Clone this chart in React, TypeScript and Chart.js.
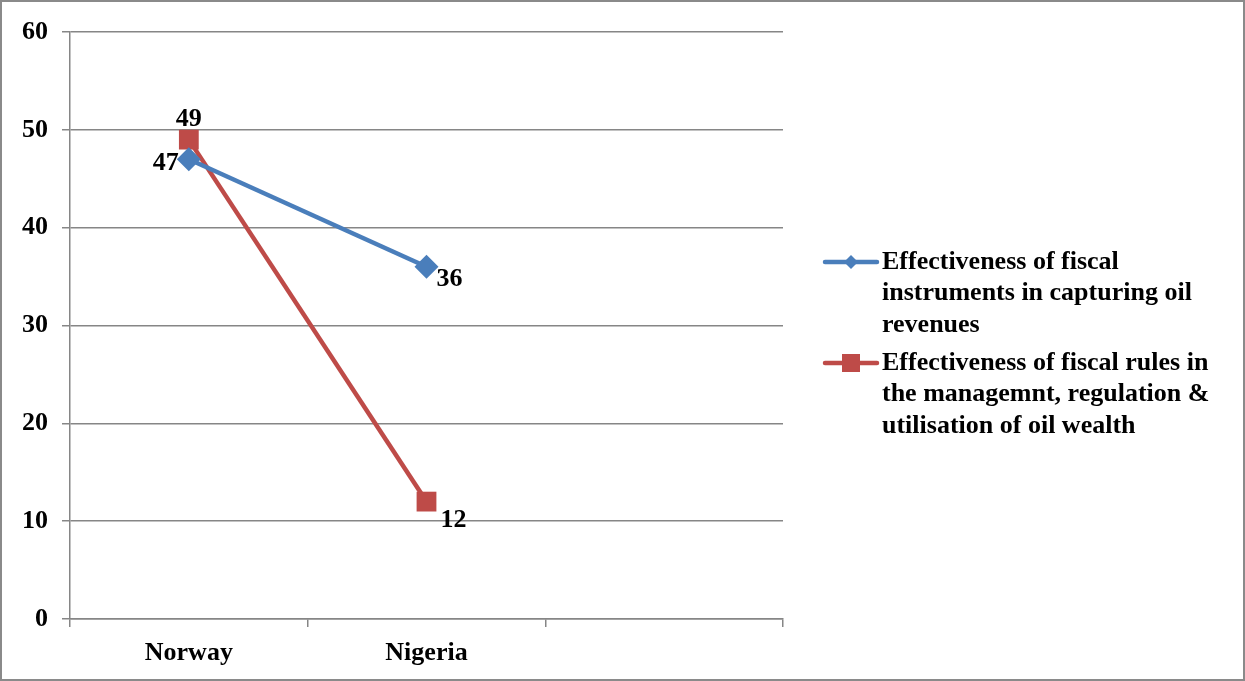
import { useEffect, useRef } from 'react';
import { Chart, registerables } from 'chart.js';

Chart.register(...registerables);

// Categories along the x axis (third slot is intentionally blank)
const categories = ['Norway', 'Nigeria', ''];

// Series values
const instrumentsValues = [47, 36, null];
const rulesValues = [49, 12, null];

// Series names, wrapped over several lines in the legend
const instrumentsLegend = ['Effectiveness of fiscal', 'instruments in capturing oil', 'revenues'];
const rulesLegend = ['Effectiveness of fiscal rules in', 'the managemnt, regulation &', 'utilisation of oil wealth'];

// Y axis range and step
const yMin = 0;
const yMax = 60;
const yStep = 10;

const WIDTH = 1245;
const HEIGHT = 681;
const FONT = '"Liberation Serif", "Times New Roman", serif';
const BLUE = '#4a7ebb';
const RED = '#be4b48';
const GRID = '#868686';

// Where each value label sits relative to its point
const labelPlacement = [
  [
    { align: 'right', dx: -10, dy: 4 },
    { align: 'left', dx: 10, dy: 12 },
  ],
  [
    { align: 'center', dx: 0, dy: -20 },
    { align: 'left', dx: 14, dy: 19 },
  ],
];

const valueLabels = {
  id: 'valueLabels',
  afterDatasetsDraw(chart: any) {
    const ctx = chart.ctx;
    ctx.save();
    ctx.font = `bold 26px ${FONT}`;
    ctx.fillStyle = '#000';
    ctx.textBaseline = 'middle';
    chart.data.datasets.forEach((ds: any, i: number) => {
      const meta = chart.getDatasetMeta(i);
      meta.data.forEach((pt: any, j: number) => {
        const v = ds.data[j];
        if (v == null) return;
        const p = labelPlacement[i][j];
        ctx.textAlign = p.align;
        ctx.fillText(String(v), pt.x + p.dx, pt.y + p.dy);
      });
    });
    ctx.restore();
  },
};

const legendTexts = [instrumentsLegend, rulesLegend];

const sideLegend = {
  id: 'sideLegend',
  afterDraw(chart: any) {
    const ctx = chart.ctx;
    const x0 = chart.chartArea.right + 40;
    const lineLen = 56;
    const textX = x0 + lineLen + 3;
    const lineGap = 31.5;
    const starts = [262, 363];
    ctx.save();
    ctx.font = `bold 26px ${FONT}`;
    ctx.fillStyle = '#000';
    ctx.textAlign = 'left';
    ctx.textBaseline = 'middle';
    chart.data.datasets.forEach((ds: any, i: number) => {
      const y = starts[i];
      ctx.strokeStyle = ds.borderColor;
      ctx.lineWidth = 4.5;
      ctx.lineCap = 'round';
      ctx.beginPath();
      ctx.moveTo(x0 + 2, y);
      ctx.lineTo(x0 + lineLen - 2, y);
      ctx.stroke();
      const cx = x0 + lineLen / 2;
      ctx.fillStyle = ds.backgroundColor;
      ctx.beginPath();
      if (ds.pointStyle === 'rectRot') {
        const r = 7;
        ctx.moveTo(cx, y - r);
        ctx.lineTo(cx + r, y);
        ctx.lineTo(cx, y + r);
        ctx.lineTo(cx - r, y);
        ctx.closePath();
      } else {
        ctx.rect(cx - 9, y - 9, 18, 18);
      }
      ctx.fill();
      ctx.fillStyle = '#000';
      legendTexts[i].forEach((line, k) => {
        ctx.fillText(line, textX, y + k * lineGap);
      });
    });
    ctx.restore();
  },
};

export default function App() {
  const canvasRef = useRef<HTMLCanvasElement | null>(null);

  useEffect(() => {
    const canvas = canvasRef.current;
    if (!canvas) return;
    const tickFont = { family: FONT, size: 26, weight: 'bold' as const };
    const chart = new Chart(canvas, {
      type: 'line',
      data: {
        labels: categories,
        datasets: [
          {
            label: instrumentsLegend.join(' '),
            data: instrumentsValues,
            borderColor: BLUE,
            backgroundColor: BLUE,
            borderWidth: 4.5,
            pointStyle: 'rectRot',
            pointRadius: 12,
            pointBorderWidth: 0,
            pointBackgroundColor: BLUE,
            tension: 0,
          },
          {
            label: rulesLegend.join(' '),
            data: rulesValues,
            borderColor: RED,
            backgroundColor: RED,
            borderWidth: 4.5,
            pointStyle: 'rect',
            pointRadius: 14,
            pointBorderWidth: 0,
            pointBackgroundColor: RED,
            tension: 0,
          },
        ],
      },
      options: {
        responsive: false,
        animation: false,
        devicePixelRatio: 1,
        layout: { padding: { top: 32, right: WIDTH - 783, left: 0, bottom: 0 } },
        plugins: {
          legend: { display: false },
          tooltip: { enabled: false },
        },
        scales: {
          x: {
            offset: true,
            grid: {
              offset: true,
              drawOnChartArea: false,
              drawTicks: true,
              tickLength: 8,
              color: GRID,
              lineWidth: 1.5,
            },
            border: { color: GRID, width: 1.5 },
            ticks: { color: '#000', font: tickFont, padding: 11, maxRotation: 0 },
            afterFit: (s: any) => {
              s.height = HEIGHT - 619;
            },
          },
          y: {
            min: yMin,
            max: yMax,
            grid: { color: GRID, lineWidth: 1.5, tickLength: 8, drawTicks: true },
            border: { color: GRID, width: 1.5 },
            ticks: { stepSize: yStep, color: '#000', font: tickFont, padding: 14 },
            afterFit: (s: any) => {
              s.width = 70;
            },
          },
        },
      },
      plugins: [valueLabels, sideLegend],
    });
    return () => chart.destroy();
  }, []);

  return (
    <div style={{ position: 'fixed', left: 0, top: 0, width: WIDTH, height: HEIGHT, background: '#fff' }}>
      <canvas ref={canvasRef} width={WIDTH} height={HEIGHT} style={{ display: 'block' }} />
      <div
        style={{
          position: 'absolute',
          inset: 0,
          border: '2px solid #8a8a8a',
          pointerEvents: 'none',
        }}
      />
    </div>
  );
}
